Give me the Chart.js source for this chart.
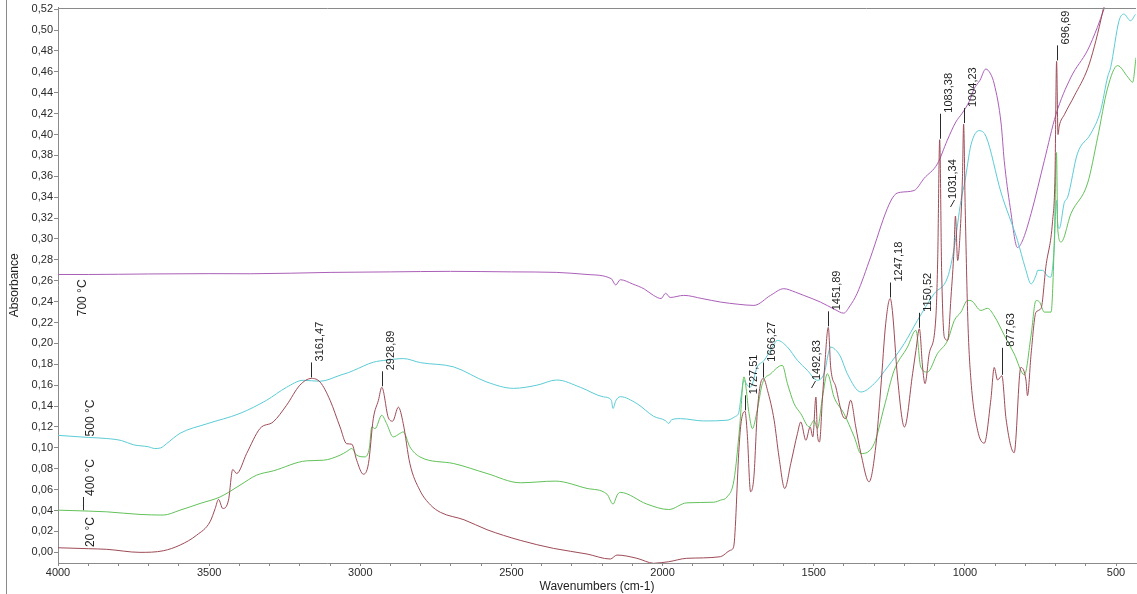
<!DOCTYPE html>
<html>
<head>
<meta charset="utf-8">
<title>FTIR spectra</title>
<script src="https://cdn.jsdelivr.net/npm/chart.js@4.4.1/dist/chart.umd.min.js"></script>
<style>
  html, body { margin: 0; padding: 0; background: #fff; }
  canvas { display: block; }
</style>
</head>
<body>
<canvas id="spectra" width="1137" height="594"></canvas>
<script>
// ---- Spectra: wavenumber (cm-1) and absorbance for each firing temperature ----
const wn700 = [4000, 3900, 3700, 3500, 3364, 3100, 2900, 2702, 2500, 2350, 2250, 2170, 2155, 2140, 2100, 2060, 2030, 2005, 1990, 1975, 1930, 1870, 1808, 1750, 1698, 1643, 1599, 1560, 1533, 1478, 1430, 1401, 1380, 1357, 1312, 1257, 1234, 1213, 1168, 1135, 1091, 1059, 1030, 1010, 985, 970, 950, 931, 915, 903, 880, 870, 850, 826, 810, 781, 737, 699, 649, 594, 562, 540, 515];
const abs700 = [0.266, 0.266, 0.2665, 0.2668, 0.2667, 0.268, 0.2685, 0.269, 0.2685, 0.268, 0.266, 0.262, 0.256, 0.261, 0.257, 0.252, 0.246, 0.243, 0.248, 0.244, 0.246, 0.243, 0.2396, 0.2375, 0.2364, 0.246, 0.2524, 0.249, 0.246, 0.2396, 0.2325, 0.229, 0.236, 0.2476, 0.2826, 0.3289, 0.3416, 0.3447, 0.3464, 0.358, 0.3719, 0.394, 0.412, 0.42, 0.432, 0.4436, 0.452, 0.4627, 0.458, 0.4484, 0.41, 0.3753, 0.33, 0.2918, 0.298, 0.3244, 0.3753, 0.419, 0.455, 0.4808, 0.5025, 0.52, 0.54];

const wn500 = [4000, 3900, 3839, 3790, 3751, 3700, 3680, 3660, 3641, 3596, 3508, 3398, 3310, 3244, 3189, 3133, 3067, 3040, 3023, 2957, 2913, 2858, 2801, 2691, 2581, 2493, 2416, 2350, 2272, 2195, 2170, 2164, 2155, 2140, 2085, 2030, 1990, 1980, 1970, 1941, 1864, 1787, 1760, 1748, 1740, 1731, 1720, 1709, 1687, 1664, 1640, 1620, 1587, 1554, 1521, 1488, 1466, 1444, 1425, 1411, 1389, 1344, 1300, 1256, 1201, 1157, 1102, 1057, 1035, 1013, 1000, 980, 953, 930, 881, 826, 800, 781, 765, 759, 743, 725, 716, 705, 697, 693, 688, 671, 660, 628, 584, 551, 528, 518, 490, 474, 452, 436];
const abs500 = [0.112, 0.110, 0.109, 0.107, 0.103, 0.101, 0.0994, 0.100, 0.104, 0.114, 0.123, 0.133, 0.1456, 0.158, 0.1647, 0.1638, 0.1695, 0.172, 0.174, 0.182, 0.184, 0.1855, 0.1816, 0.1775, 0.163, 0.157, 0.160, 0.165, 0.158, 0.1488, 0.146, 0.1377, 0.145, 0.149, 0.1424, 0.1303, 0.126, 0.1233, 0.127, 0.128, 0.1258, 0.1265, 0.130, 0.134, 0.150, 0.1647, 0.160, 0.1583, 0.1774, 0.1838, 0.195, 0.2029, 0.1965, 0.1838, 0.1742, 0.1647, 0.171, 0.1965, 0.193, 0.187, 0.171, 0.1535, 0.1615, 0.1774, 0.1997, 0.222, 0.2475, 0.2635, 0.2922, 0.3368, 0.355, 0.390, 0.4037, 0.398, 0.345, 0.2986, 0.272, 0.257, 0.265, 0.270, 0.270, 0.264, 0.2635, 0.290, 0.3368, 0.315, 0.310, 0.335, 0.340, 0.3815, 0.4006, 0.4229, 0.455, 0.464, 0.509, 0.5153, 0.5089, 0.515];

const wn400 = [4000, 3900, 3839, 3729, 3652, 3596, 3530, 3464, 3398, 3343, 3288, 3178, 3122, 3067, 3045, 3028, 3012, 2984, 2970, 2962, 2951, 2929, 2913, 2891, 2869, 2858, 2836, 2803, 2691, 2581, 2471, 2355, 2250, 2184, 2164, 2150, 2140, 2052, 1980, 1920, 1831, 1808, 1787, 1764, 1745, 1731, 1714, 1703, 1687, 1670, 1642, 1604, 1587, 1565, 1543, 1515, 1499, 1488, 1471, 1455, 1433, 1400, 1366, 1344, 1300, 1267, 1234, 1190, 1162, 1146, 1124, 1091, 1057, 1035, 1013, 991, 980, 947, 925, 903, 870, 837, 803, 781, 765, 754, 737, 715, 704, 697, 693, 682, 649, 594, 561, 528, 495, 461, 445, 434];
const abs400 = [0.0404, 0.0395, 0.0388, 0.0363, 0.0357, 0.0404, 0.0468, 0.053, 0.0643, 0.0739, 0.078, 0.0876, 0.0882, 0.093, 0.0965, 0.0994, 0.093, 0.0914, 0.100, 0.120, 0.1185, 0.1312, 0.1233, 0.1105, 0.1138, 0.1153, 0.101, 0.0914, 0.085, 0.0755, 0.0666, 0.0682, 0.0612, 0.0557, 0.0462, 0.055, 0.0574, 0.0462, 0.041, 0.0474, 0.048, 0.050, 0.053, 0.069, 0.120, 0.168, 0.1328, 0.1185, 0.136, 0.1615, 0.171, 0.179, 0.1615, 0.1424, 0.1328, 0.1201, 0.1264, 0.1185, 0.1487, 0.171, 0.1487, 0.1328, 0.1105, 0.0946, 0.1041, 0.1392, 0.1742, 0.1965, 0.2125, 0.1774, 0.1726, 0.1902, 0.203, 0.222, 0.230, 0.2412, 0.241, 0.2316, 0.2336, 0.2263, 0.208, 0.190, 0.170, 0.208, 0.241, 0.240, 0.230, 0.230, 0.300, 0.3827, 0.310, 0.297, 0.3244, 0.3535, 0.397, 0.4444, 0.466, 0.455, 0.450, 0.4735];

const wn20 = [4000, 3900, 3839, 3729, 3652, 3596, 3541, 3497, 3480, 3469, 3455, 3436, 3422, 3409, 3376, 3332, 3288, 3244, 3200, 3161.47, 3133, 3100, 3067, 3045, 3028, 3012, 2990, 2973, 2957, 2940, 2928.89, 2907, 2893, 2874, 2858, 2836, 2803, 2768, 2735, 2657, 2581, 2471, 2361, 2250, 2173, 2151, 2085, 2030, 1980, 1920, 1809, 1775, 1765, 1747, 1740, 1727.51, 1720, 1709, 1698, 1687, 1676, 1666.27, 1653, 1631, 1615, 1596, 1576, 1554, 1543, 1526, 1512, 1503, 1492.83, 1488, 1481, 1471, 1464, 1451.89, 1444, 1427, 1405, 1394, 1378, 1361, 1344, 1317, 1295, 1278, 1262, 1247.18, 1240, 1223, 1200, 1173, 1162, 1150.52, 1140, 1132, 1118, 1096, 1090, 1083.38, 1077, 1068, 1057, 1046, 1036, 1031.34, 1024, 1015, 1008, 1004.23, 999, 990, 980, 958, 936, 914, 903, 892, 877.63, 864, 837, 815, 798, 793, 781, 765, 748, 732, 710, 702, 696.69, 692, 688, 671, 638, 594, 572, 550, 535];
const abs20 = [0.0044, 0.0035, 0.0029, 0.000, 0.0015, 0.007, 0.0165, 0.0293, 0.042, 0.0507, 0.042, 0.050, 0.0793, 0.0755, 0.0946, 0.1185, 0.1249, 0.1408, 0.160, 0.1665, 0.163, 0.1456, 0.120, 0.104, 0.1035, 0.0882, 0.0748, 0.085, 0.128, 0.1456, 0.158, 0.1287, 0.1256, 0.139, 0.1233, 0.085, 0.0594, 0.0454, 0.0383, 0.0312, 0.0217, 0.0115, 0.0038, -0.0016, -0.0064, -0.0026, -0.0057, -0.0105, -0.009, -0.0057, -0.0042, 0.0021, 0.0053, 0.101, 0.125, 0.135, 0.1137, 0.058, 0.0723, 0.133, 0.1615, 0.1663, 0.1551, 0.1264, 0.0914, 0.0611, 0.085, 0.1137, 0.1248, 0.1073, 0.120, 0.1105, 0.1487, 0.1137, 0.1057, 0.1487, 0.1774, 0.2154, 0.1774, 0.1583, 0.1312, 0.128, 0.1456, 0.120, 0.0946, 0.0675, 0.101, 0.1583, 0.2189, 0.243, 0.2316, 0.1679, 0.120, 0.171, 0.1934, 0.214, 0.1774, 0.1615, 0.1902, 0.2252, 0.280, 0.395, 0.270, 0.206, 0.203, 0.2444, 0.290, 0.322, 0.2794, 0.310, 0.360, 0.410, 0.330, 0.220, 0.1648, 0.117, 0.1045, 0.1465, 0.177, 0.165, 0.169, 0.128, 0.0954, 0.177, 0.165, 0.150, 0.190, 0.2297, 0.2336, 0.2737, 0.317, 0.360, 0.470, 0.400, 0.408, 0.419, 0.437, 0.463, 0.484, 0.510, 0.530];

// ---- Axis ticks ----
const yTickValues = [0.00, 0.02, 0.04, 0.06, 0.08, 0.10, 0.12, 0.14, 0.16, 0.18, 0.20, 0.22, 0.24, 0.26, 0.28, 0.30, 0.32, 0.34, 0.36, 0.38, 0.40, 0.42, 0.44, 0.46, 0.48, 0.50, 0.52];
const xTickLabels = [4000, 3500, 3000, 2500, 2000, 1500, 1000, 500];

// ---- Peak annotations (20 °C spectrum) ----
const peakLabels = ['3161,47', '2928,89', '1727,51', '1666,27', '1492,83', '1451,89', '1247,18', '1150,52', '1083,38', '1031,34', '1004,23', '877,63', '696,69'];
const peakWavenumbers = [3161.47, 2928.89, 1727.51, 1666.27, 1492.83, 1451.89, 1247.18, 1150.52, 1083.38, 1031.34, 1004.23, 877.63, 696.69];

// ---- Series names ----
const seriesNames = ['20 °C', '400 °C', '500 °C', '700 °C'];

const FONT = '"Liberation Sans", Arial, Helvetica, sans-serif';

// minor x tick marks every 100 cm-1, labelled every 500
const xTickMarks = [];
for (let w = 4000; w >= 500; w -= 100) xTickMarks.push(w);

function toPoints(w, a) {
  return w.map((x, i) => ({ x: x, y: a[i] }));
}

const spectra = [
  { name: seriesNames[0], w: wn20,  a: abs20,  color: '#9d4b57' },
  { name: seriesNames[1], w: wn400, a: abs400, color: '#62c159' },
  { name: seriesNames[2], w: wn500, a: abs500, color: '#5ccbd5' },
  { name: seriesNames[3], w: wn700, a: abs700, color: '#ab5fb8' }
];

// text placed above/below each trace near the left edge
const seriesTags = [
  { text: seriesNames[0], w: 3891, base: 0.005 },
  { text: seriesNames[1], w: 3891, base: 0.054, lead: { w: 3918, from: 0.0404, to: 0.053 } },
  { text: seriesNames[2], w: 3891, base: 0.111 },
  { text: seriesNames[3], w: 3917, base: 0.226 }
];

// leader shape per label: length in px, text shift, slanted leaders
const leaders = {
  '877,63': { len: 28 },
  '1083,38': { len: 26 },
  '1031,34': { dx: -3, slant: true },
  '1492,83': { dx: 0, slant: true }
};

const annotate = {
  id: 'annotate',
  afterDatasetsDraw(chart) {
    const { ctx, chartArea: area, scales: { x, y } } = chart;
    ctx.save();

    // plot frame top and outer left rule
    ctx.strokeStyle = '#8a8a8a';
    ctx.lineWidth = 1;
    ctx.beginPath();
    ctx.moveTo(area.left, Math.round(area.top) + 0.5);
    ctx.lineTo(area.right, Math.round(area.top) + 0.5);
    ctx.stroke();
    ctx.beginPath();
    ctx.moveTo(6.5, 0);
    ctx.lineTo(6.5, chart.height);
    ctx.stroke();

    // peak markers with rotated wavenumber labels
    ctx.font = '11px ' + FONT;
    ctx.fillStyle = '#1e1e1e';
    ctx.strokeStyle = '#2a2a2a';
    peakWavenumbers.forEach((w, i) => {
      const lab = peakLabels[i];
      const st = leaders[lab] || {};
      const len = st.len || 16;
      const dx = st.dx !== undefined ? st.dx : 8;
      const v = abs20[wn20.indexOf(w)];
      const px = Math.round(x.getPixelForValue(w)) + 0.5;
      const py = y.getPixelForValue(v);
      ctx.beginPath();
      if (st.slant) {
        ctx.moveTo(px - 5, py - 9);
        ctx.lineTo(px - 1, py - len);
      } else {
        ctx.moveTo(px, py - 1);
        ctx.lineTo(px, py - len);
      }
      ctx.stroke();
      ctx.save();
      ctx.translate(px + dx, py - len - 1);
      ctx.rotate(-Math.PI / 2);
      ctx.textAlign = 'left';
      ctx.textBaseline = 'middle';
      ctx.fillText(lab, 0, 0);
      ctx.restore();
    });

    // temperature tags
    ctx.font = '12px ' + FONT;
    seriesTags.forEach(t => {
      if (t.lead) {
        const lx = Math.round(x.getPixelForValue(t.lead.w)) + 0.5;
        ctx.beginPath();
        ctx.moveTo(lx, y.getPixelForValue(t.lead.from));
        ctx.lineTo(lx, y.getPixelForValue(t.lead.to));
        ctx.stroke();
      }
      ctx.save();
      ctx.translate(x.getPixelForValue(t.w), y.getPixelForValue(t.base));
      ctx.rotate(-Math.PI / 2);
      ctx.textAlign = 'left';
      ctx.textBaseline = 'middle';
      ctx.fillText(t.text, 0, 0);
      ctx.restore();
    });

    ctx.restore();
  }
};

new Chart(document.getElementById('spectra'), {
  type: 'line',
  data: {
    datasets: spectra.map(s => ({
      label: s.name,
      data: toPoints(s.w, s.a),
      borderColor: s.color,
      backgroundColor: s.color,
      borderWidth: 1,
      pointRadius: 0,
      fill: false,
      cubicInterpolationMode: 'monotone'
    }))
  },
  options: {
    responsive: false,
    animation: false,
    events: [],
    layout: { padding: { left: 3, right: 1, top: 7, bottom: 0 } },
    plugins: { legend: { display: false }, tooltip: { enabled: false } },
    scales: {
      x: {
        type: 'linear',
        reverse: true,
        min: 434,
        max: 4000,
        afterBuildTicks: s => { s.ticks = xTickMarks.map(v => ({ value: v })); },
        afterFit: s => { s.height = 31; },
        ticks: {
          autoSkip: false,
          maxRotation: 0,
          padding: 0,
          color: '#2a2a2a',
          font: { family: FONT, size: 11 },
          callback: v => (xTickLabels.includes(v) ? String(v) : '')
        },
        grid: { drawOnChartArea: false, drawTicks: true, tickLength: 3, color: '#8a8a8a' },
        border: { display: true, color: '#8a8a8a' },
        title: {
          display: true,
          text: 'Wavenumbers (cm-1)',
          color: '#1e1e1e',
          font: { family: FONT, size: 12 },
          padding: { top: 0, bottom: 0 }
        }
      },
      y: {
        type: 'linear',
        min: -0.0102,
        max: 0.5215,
        afterBuildTicks: s => { s.ticks = yTickValues.map(v => ({ value: v })); },
        afterFit: s => { s.width = 55; },
        ticks: {
          padding: 1,
          color: '#2a2a2a',
          font: { family: FONT, size: 11 },
          callback: v => v.toFixed(2).replace('.', ',')
        },
        grid: { drawOnChartArea: false, drawTicks: true, tickLength: 4, color: '#8a8a8a' },
        border: { display: true, color: '#8a8a8a' },
        title: {
          display: true,
          text: 'Absorbance',
          color: '#1e1e1e',
          font: { family: FONT, size: 12 },
          padding: { top: 4, bottom: 0 }
        }
      }
    }
  },
  plugins: [annotate]
});
</script>
</body>
</html>
